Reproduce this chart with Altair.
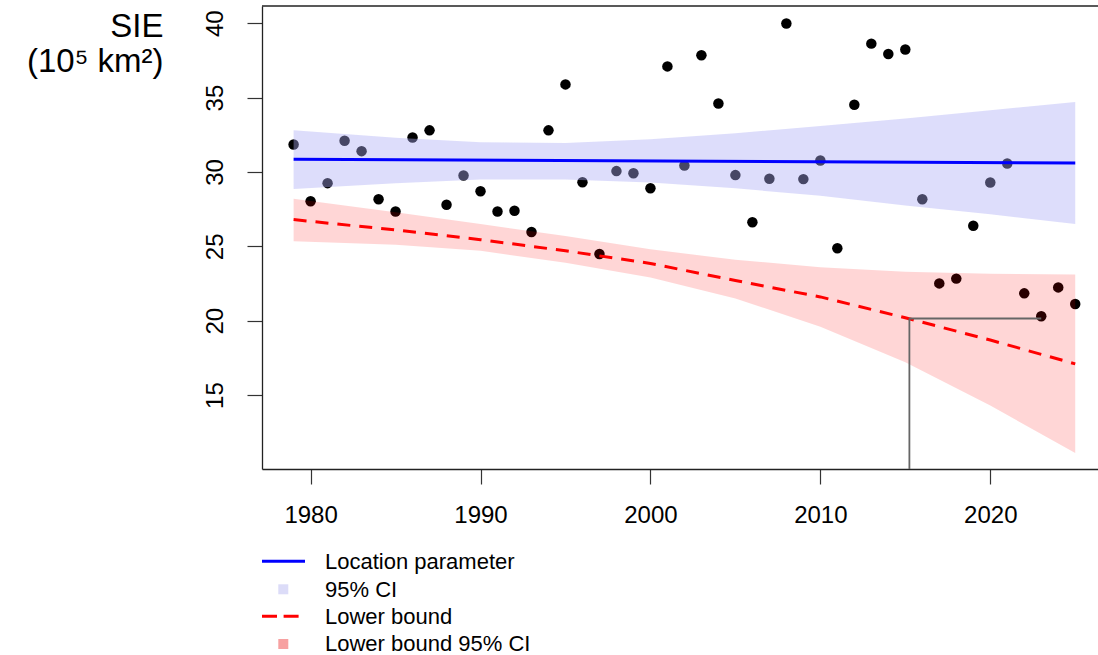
import altair as alt
import pandas as pd

# ---------------- data ----------------
years = list(range(1979, 2026))
sie = [31.85, 28.03, 29.25, 32.10, 31.40, 28.17, 27.34, 32.32, 32.80, 27.80,
       29.76, 28.71, 27.34, 27.39, 25.97, 32.80, 35.89, 29.31, 24.49, 30.06,
       29.92, 28.91, 37.10, 30.44, 37.85, 34.61, 29.79, 26.62, 29.54, 39.98,
       29.52, 30.77, 24.87, 34.52, 38.63, 37.93, 38.23, 28.17, 22.51, 22.83,
       26.38, 29.29, 30.57, 21.84, 20.30, 22.24, 21.12]

loc_years = [1979, 2025]
loc_values = [30.85, 30.60]

knot_years = [1979, 1985, 1990, 1995, 2000, 2005, 2010, 2015, 2020, 2025]
loc_upper = [32.80, 32.30, 32.00, 31.95, 32.20, 32.60, 33.10, 33.60, 34.15, 34.70]
loc_lower = [28.85, 29.25, 29.50, 29.50, 29.30, 28.90, 28.40, 27.75, 27.15, 26.50]
lb_line = [26.80, 26.10, 25.45, 24.70, 23.85, 22.70, 21.60, 20.20, 18.70, 17.10]
lb_upper = [28.20, 27.30, 26.50, 25.70, 24.80, 24.10, 23.60, 23.30, 23.15, 23.10]
lb_lower = [25.34, 25.10, 24.70, 23.90, 22.90, 21.50, 19.60, 17.20, 14.30, 11.10]

ref_year = 2015.24
ref_level = 20.15
ref_obs_year = 2023

x_ticks = [1980, 1990, 2000, 2010, 2020]
y_ticks = [15, 20, 25, 30, 35, 40]
x_domain = [1977.14, 2026.34]
y_domain = [10.03, 41.16]

y_title = ["SIE", "(10\u2075 km\u00b2)"]
legend_labels = ["Location parameter", "95% CI", "Lower bound", "Lower bound 95% CI"]

# ---------------- tables ----------------
pts = pd.DataFrame({"year": years, "value": sie})
loc = pd.DataFrame({"year": loc_years, "value": loc_values})
bands = pd.DataFrame({"year": knot_years, "loc_upper": loc_upper, "loc_lower": loc_lower,
                      "lb": lb_line, "lb_upper": lb_upper, "lb_lower": lb_lower})
ref = pd.DataFrame({"x": [ref_year], "x2": [ref_obs_year], "y": [y_domain[0]], "lvl": [ref_level]})

W, H = 836, 463
FONT = "Liberation Sans"

xs = alt.Scale(domain=x_domain, nice=False, zero=False)
ys = alt.Scale(domain=y_domain, nice=False, zero=False)

x_axis = alt.Axis(values=x_ticks, format="d", title="", grid=False,
                  tickSize=15, tickColor="#333333", tickWidth=1.2,
                  domainColor="#222222", domainWidth=1.3,
                  labelFont=FONT, labelFontSize=24, labelColor="black",
                  labelBaseline="alphabetic", labelPadding=38,
                  labelFlush=False, labelOverlap=False)
y_axis = alt.Axis(values=y_ticks, title=y_title, grid=False,
                  tickSize=15, tickColor="#333333", tickWidth=1.2,
                  domainColor="#222222", domainWidth=1.3,
                  labelFont=FONT, labelFontSize=24, labelColor="black",
                  labelAngle=270, labelAlign="center", labelBaseline="alphabetic",
                  labelPadding=25, labelFlush=False, labelOverlap=False,
                  titleAngle=0, titleAlign="right", titleBaseline="alphabetic",
                  titleX=-99, titleY=30.7, titleFont=FONT, titleFontSize=33,
                  titleFontWeight="normal", titleColor="black", titleLineHeight=35)


def X(f):
    return alt.X(f, scale=xs, axis=x_axis)


def Y(f):
    return alt.Y(f, scale=ys, axis=y_axis)


points = alt.Chart(pts).mark_circle(size=110, color="black", opacity=1).encode(
    x=X("year:Q"), y=Y("value:Q"),
)
blue_band = alt.Chart(bands).mark_area(color="#acacf5", opacity=0.41).encode(
    x=X("year:Q"), y=Y("loc_upper:Q"), y2="loc_lower:Q",
)
red_band = alt.Chart(bands).mark_area(color="#ff0000", opacity=0.16).encode(
    x=X("year:Q"), y=Y("lb_upper:Q"), y2="lb_lower:Q",
)
blue_line = alt.Chart(loc).mark_line(color="#0000ff", strokeWidth=3).encode(
    x=X("year:Q"), y=Y("value:Q"),
)
red_line = alt.Chart(bands).mark_line(color="#ff0000", strokeWidth=3,
                                      strokeDash=[13, 9], strokeCap="butt").encode(
    x=X("year:Q"), y=Y("lb:Q"),
)
ref_v = alt.Chart(ref).mark_rule(color="#666666", strokeWidth=1.8).encode(
    x=X("x:Q"), y=Y("y:Q"), y2="lvl:Q",
)
ref_h = alt.Chart(ref).mark_rule(color="#666666", strokeWidth=1.8).encode(
    x=X("x:Q"), x2="x2:Q", y=Y("lvl:Q"),
)
one = pd.DataFrame({"a": [0]})
top_frame = alt.Chart(one).mark_rule(color="#222222", strokeWidth=1.3).encode(
    x=alt.value(0), x2=alt.value(W), y=alt.value(0)
)

# ---------------- legend (below the plot) ----------------
text_y = [563.3, 590.7, 618.3, 645.0]
leg_layers = []
for lab, ty in zip(legend_labels, text_y):
    leg_layers.append(
        alt.Chart(pd.DataFrame({"label": [lab]})).mark_text(
            align="left", baseline="alphabetic", font=FONT, fontSize=22, color="black"
        ).encode(x=alt.value(63), y=alt.value(ty), text="label:N")
    )
leg_layers.append(alt.Chart(one).mark_rule(color="#0000ff", strokeWidth=3).encode(
    x=alt.value(0), x2=alt.value(43), y=alt.value(555.3)))
leg_layers.append(alt.Chart(one).mark_square(size=100, color="#dcdcf8", opacity=1).encode(
    x=alt.value(21.3), y=alt.value(583.3)))
leg_layers.append(alt.Chart(one).mark_rule(color="#ff0000", strokeWidth=3,
                                           strokeDash=[15, 6.6], strokeCap="butt").encode(
    x=alt.value(0), x2=alt.value(37), y=alt.value(610.3)))
leg_layers.append(alt.Chart(one).mark_square(size=100, color="#f7a1a1", opacity=1).encode(
    x=alt.value(21.3), y=alt.value(638)))

chart = alt.layer(points, blue_band, red_band, blue_line, red_line, ref_v, ref_h,
                  top_frame, *leg_layers).properties(
    width=W, height=H,
    autosize=alt.AutoSizeParams(type="none"),
    padding={"left": 262, "top": 6, "right": 0, "bottom": 186},
    background="white",
).configure_view(strokeWidth=0)

chart.save("out.html", embed_options={"renderer": "svg", "actions": False})
